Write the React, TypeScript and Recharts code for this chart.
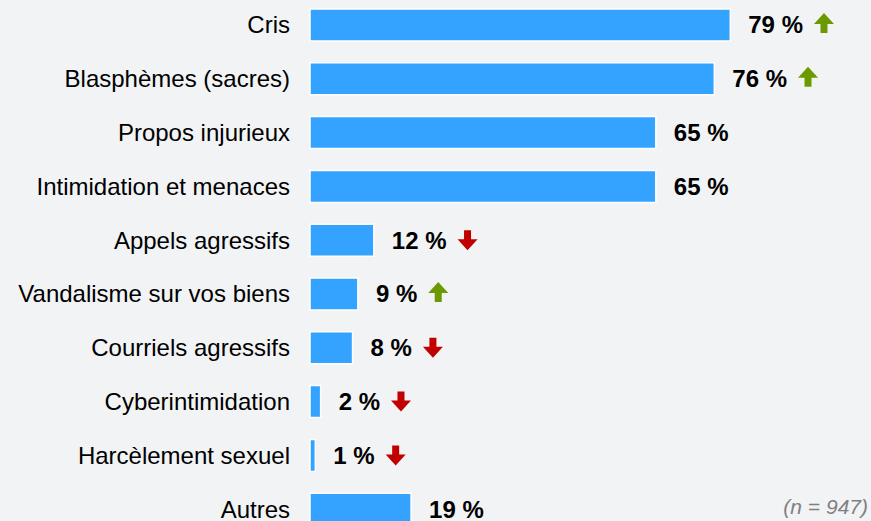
import { BarChart, Bar, XAxis, YAxis, LabelList } from 'recharts';

const categories = [
  'Cris',
  'Blasphèmes (sacres)',
  'Propos injurieux',
  'Intimidation et menaces',
  'Appels agressifs',
  'Vandalisme sur vos biens',
  'Courriels agressifs',
  'Cyberintimidation',
  'Harcèlement sexuel',
  'Autres',
];
const values = [79, 76, 65, 65, 12, 9, 8, 2, 1, 19];
// 1 = up, -1 = down, 0 = no arrow
const trends = [1, 1, 0, 0, -1, 1, -1, -1, -1, 0];

const data = categories.map((name, i) => ({ name, value: values[i], trend: trends[i] }));

const FONT = '"Liberation Sans", Arial, sans-serif';

let ctx: CanvasRenderingContext2D | null = null;
function textWidth(s: string) {
  if (!ctx) ctx = document.createElement('canvas').getContext('2d');
  if (!ctx) return s.length * 13;
  ctx.font = `bold 24px ${FONT}`;
  return ctx.measureText(s).width;
}

function ValueLabel(props: any) {
  const { x, y, width, height, index } = props;
  const v = values[index];
  const t = trends[index];
  const label = `${v} %`;
  const lx = x + width + 18;
  const cy = y + height / 2;
  const ax = lx + textWidth(label) + 11;
  return (
    <g>
      <text
        x={lx}
        y={cy}
        dy="0.35em"
        fontFamily={FONT}
        fontSize={24}
        fontWeight="bold"
        fill="#000"
      >
        {label}
      </text>
      {t === 1 && (
        <path
          d={`M${ax + 10},${cy - 12} L${ax + 20},${cy - 1} L${ax + 13.5},${cy - 1} L${ax + 13.5},${cy + 8} L${ax + 6.5},${cy + 8} L${ax + 6.5},${cy - 1} L${ax},${cy - 1} Z`}
          fill="#6a9a00"
        />
      )}
      {t === -1 && (
        <path
          d={`M${ax + 10},${cy + 10} L${ax + 20},${cy - 1} L${ax + 13.5},${cy - 1} L${ax + 13.5},${cy - 10} L${ax + 6.5},${cy - 10} L${ax + 6.5},${cy - 1} L${ax},${cy - 1} Z`}
          fill="#c00000"
        />
      )}
    </g>
  );
}

export default function App() {
  return (
    <div
      style={{
        position: 'fixed',
        left: 0,
        top: 0,
        width: 871,
        height: 521,
        overflow: 'hidden',
        background: '#f2f3f5',
      }}
    >
      <div style={{ position: 'absolute', left: 0, top: -2 }}>
        <BarChart
          width={871}
          height={538}
          data={data}
          layout="vertical"
          margin={{ top: 0, right: 29, left: 0, bottom: 0 }}
          barSize={32}
        >
          <XAxis type="number" domain={[0, 100]} hide />
          <YAxis
            type="category"
            dataKey="name"
            width={310}
            axisLine={false}
            tickLine={false}
            tickSize={0}
            tickMargin={20}
            tick={{ fontSize: 24, fill: '#000', fontFamily: FONT }}
            interval={0}
          />
          <Bar
            dataKey="value"
            fill="#33a3ff"
            stroke="#ffffff"
            strokeWidth={1.5}
            isAnimationActive={false}
          >
            <LabelList dataKey="value" content={<ValueLabel />} />
          </Bar>
        </BarChart>
      </div>
      <div
        style={{
          position: 'absolute',
          right: 3,
          top: 495,
          fontFamily: FONT,
          fontStyle: 'italic',
          fontSize: 21,
          color: '#808080',
          lineHeight: '24px',
        }}
      >
        (n = 947)
      </div>
    </div>
  );
}
